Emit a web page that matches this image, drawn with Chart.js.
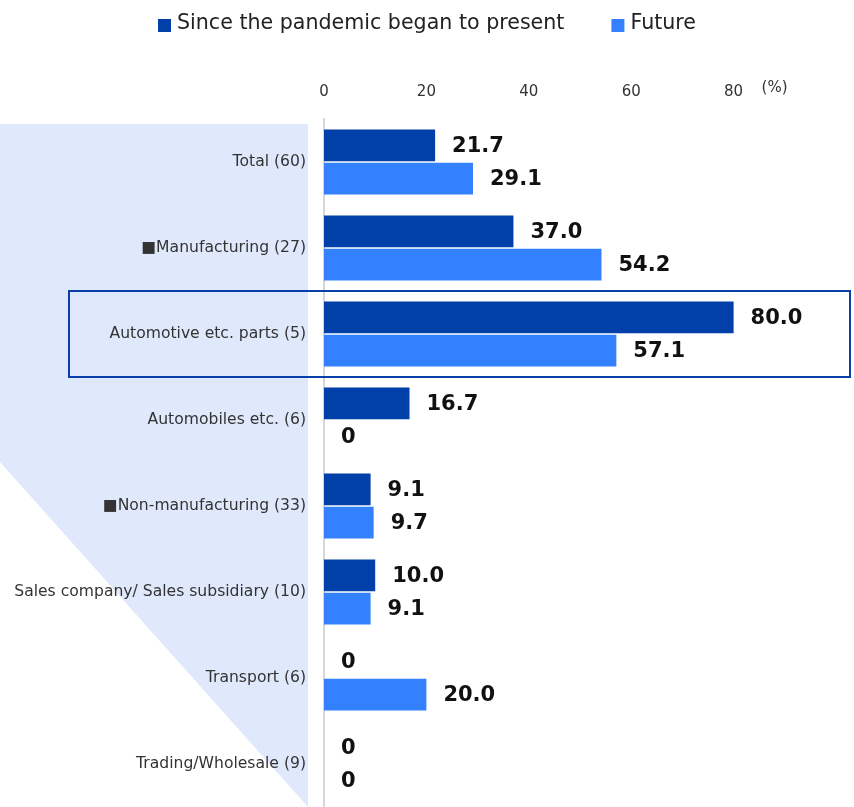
<!DOCTYPE html>
<html>
<head>
<meta charset="utf-8">
<script src="https://cdn.jsdelivr.net/npm/chart.js@4.4.1/dist/chart.umd.min.js"></script>
<style>
  html, body { margin: 0; padding: 0; background: #fff; }
  #wrap { width: 854px; height: 807px; }
</style>
</head>
<body>
<div id="wrap"><canvas id="chart"></canvas></div>
<script>
const categories = [
    'Total (60)',
    '■Manufacturing (27)',
    'Automotive etc. parts (5)',
    'Automobiles etc. (6)',
    '■Non-manufacturing (33)',
    'Sales company/ Sales subsidiary (10)',
    'Transport (6)',
    'Trading/Wholesale (9)'
];
const sincePandemic = [21.7, 37.0, 80.0, 16.7, 9.1, 10.0, 0, 0];
const future = [29.1, 54.2, 57.1, 0, 9.7, 9.1, 20.0, 0];
const seriesNames = ['Since the pandemic began to present', 'Future'];
const xTicks = [0, 20, 40, 60, 80];
const unitLabel = '(%)';
const highlightIndex = 2;

const DARK = '#0040a8';
const LIGHT = '#3381ff';
const FONT = "'DejaVu Sans', Verdana, sans-serif";

// light blue backdrop behind the category labels
const backdrop = {
    id: 'backdrop',
    beforeDraw(chart) {
        const ctx = chart.ctx;
        const area = chart.chartArea;
        const top = area.top + 5;
        const right = area.left - 16;
        const bottom = chart.height;
        ctx.save();
        ctx.fillStyle = '#dfe9fb';
        ctx.beginPath();
        ctx.moveTo(0, top);
        ctx.lineTo(right, top);
        ctx.lineTo(right, bottom);
        ctx.lineTo(0, top + (bottom - top) * 0.495);
        ctx.closePath();
        ctx.fill();
        ctx.restore();
    }
};

// frame round the highlighted category, numbers next to bars, unit and legend
const extras = {
    id: 'extras',
    afterDatasetsDraw(chart) {
        const ctx = chart.ctx;
        const y = chart.scales.y;
        const x = chart.scales.x;

        const step = y.getPixelForValue(1) - y.getPixelForValue(0);
        const yc = y.getPixelForValue(highlightIndex);
        ctx.save();
        ctx.strokeStyle = '#0a3ea8';
        ctx.lineWidth = 2;
        ctx.strokeRect(69, yc - step / 2, chart.width - 4 - 69, step);
        ctx.restore();

        ctx.save();
        ctx.font = 'bold 21px ' + FONT;
        ctx.fillStyle = '#111';
        ctx.textAlign = 'left';
        ctx.textBaseline = 'middle';
        chart.data.datasets.forEach((ds, i) => {
            chart.getDatasetMeta(i).data.forEach((bar, j) => {
                const v = ds.data[j];
                const txt = v === 0 ? '0' : v.toFixed(1);
                ctx.fillText(txt, bar.x + 17, bar.y + 1);
            });
        });
        ctx.restore();

        // unit next to the top axis
        ctx.save();
        ctx.font = '15px ' + FONT;
        ctx.fillStyle = '#333';
        ctx.textAlign = 'center';
        ctx.textBaseline = 'middle';
        ctx.fillText(unitLabel, x.getPixelForValue(80) + 41, 88);
        ctx.restore();

        // legend
        ctx.save();
        ctx.font = '20.6px ' + FONT;
        ctx.textBaseline = 'middle';
        const box = 13, gap = 6, between = 47;
        const widths = seriesNames.map(n => ctx.measureText(n).width);
        const total = widths.reduce((a, w) => a + box + gap + w, 0) + between * (seriesNames.length - 1);
        let lx = (chart.width - total) / 2;
        const colors = [DARK, LIGHT];
        seriesNames.forEach((n, i) => {
            ctx.fillStyle = colors[i];
            ctx.fillRect(lx, 19, box, box);
            ctx.fillStyle = '#222';
            ctx.fillText(n, lx + box + gap, 24);
            lx += box + gap + widths[i] + between;
        });
        ctx.restore();
    }
};

new Chart(document.getElementById('chart'), {
    type: 'bar',
    data: {
        labels: categories,
        datasets: [
            { label: seriesNames[0], data: sincePandemic, backgroundColor: DARK, borderWidth: 0,
              categoryPercentage: 0.77, barPercentage: 0.96 },
            { label: seriesNames[1], data: future, backgroundColor: LIGHT, borderWidth: 0,
              categoryPercentage: 0.77, barPercentage: 0.96 }
        ]
    },
    options: {
        indexAxis: 'y',
        responsive: true,
        maintainAspectRatio: false,
        animation: false,
        layout: { padding: { top: 54, right: 17, left: 0, bottom: 0 } },
        plugins: {
            legend: { display: false },
            tooltip: { enabled: false }
        },
        scales: {
            x: {
                position: 'top',
                min: 0,
                max: 100,
                grid: { display: false, drawTicks: false },
                border: { display: false },
                ticks: {
                    stepSize: 20,
                    padding: 18,
                    color: '#333',
                    font: { size: 15, family: FONT },
                    callback: v => xTicks.includes(v) ? v : ''
                },
                afterFit: s => { s.height = 65; }
            },
            y: {
                grid: { display: false, drawTicks: false },
                border: { display: true, color: '#d6d6d6', width: 2 },
                ticks: {
                    padding: 18,
                    color: '#333',
                    font: { size: 15.6, family: FONT }
                },
                afterFit: s => {
                    s.width = 324;
                    s.paddingTop = 0;
                    s.paddingBottom = 0;
                }
            }
        }
    },
    plugins: [backdrop, extras]
});
</script>
</body>
</html>
